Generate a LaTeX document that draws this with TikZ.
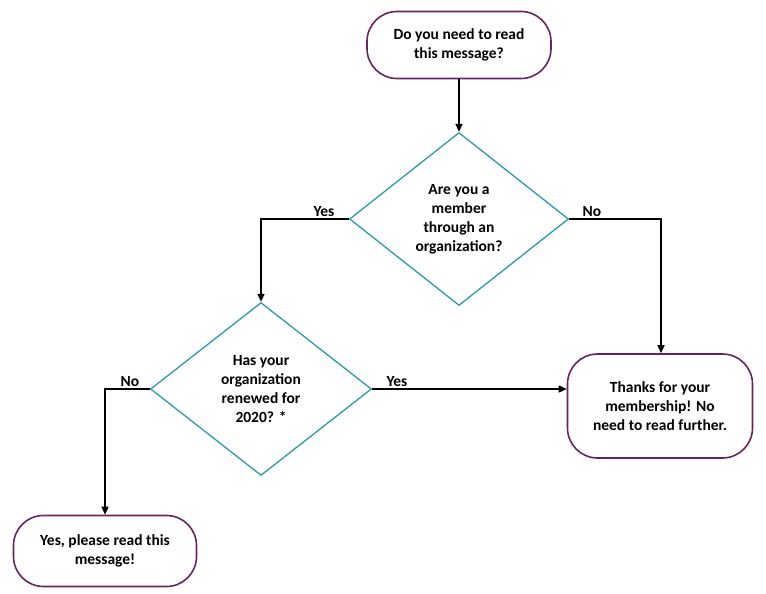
\documentclass[tikz,border=0pt]{standalone}
\usepackage{fontspec}
\setmainfont{Carlito}
\usepackage{tikz}
\usetikzlibrary{shapes.geometric, arrows.meta, positioning}
\usepackage{xcolor}
\definecolor{termline}{RGB}{104,36,96}
\definecolor{decline}{RGB}{46,152,172}

\tikzset{
  terminal/.style={draw=termline, line width=1.6pt, rounded corners=30pt, fill=white,
    align=center, font=\fontsize{15.5}{19}\selectfont\bfseries, inner sep=0pt},
  decision/.style={diamond, draw=decline, line width=1.3pt, align=center,
    font=\fontsize{15.5}{19}\selectfont\bfseries, inner sep=0pt},
  flow/.style={line width=1.6pt, -{Triangle[length=8pt,width=7pt]}},
  answer/.style={font=\fontsize{15.5}{19}\selectfont\bfseries, inner sep=1pt, anchor=south}
}

\begin{document}
\begin{tikzpicture}[x=1pt, y=-1pt]
  \useasboundingbox (0,0) rectangle (766,594);
  % Start
  \node[terminal, minimum width=184pt, minimum height=67pt] (start) at (459,45)
    {Do you need to read\\this message?};
  % Decisions
  \node[decision, minimum width=219pt, minimum height=173pt] (member) at (459,219)
    {Are you a\\member\\through an\\organization?};
  \node[decision, minimum width=221pt, minimum height=173pt] (renewed) at (261,389)
    {Has your\\organization\\renewed for\\2020? *};
  % Outcomes
  \node[terminal, minimum width=185pt, minimum height=104pt] (done) at (660,406)
    {Thanks for your\\membership! No\\need to read further.};
  \node[terminal, minimum width=183pt, minimum height=71pt] (read) at (105,551)
    {Yes, please read this\\message!};
  % Bend points
  \coordinate (yesbend) at (261,219);
  \coordinate (nobend) at (661,219);
  \coordinate (nobend2) at (105,389);
  % Connectors
  \draw[flow] (start) -- (member);
  \draw[flow] (member.west) -- (yesbend) -- (renewed.north);
  \draw[flow] (member.east) -- (nobend) -- (nobend |- done.north);
  \draw[flow] (renewed.east) -- (renewed.east -| done.west);
  \draw[flow] (renewed.west) -- (nobend2) -- (nobend2 |- read.north);
  % Answer labels
  \node[answer] (yes1) at (324,218) {Yes};
  \node[answer] (no1) at (592,218) {No};
  \node[answer] (no2) at (130,388) {No};
  \node[answer] (yes2) at (397,388) {Yes};
\end{tikzpicture}
\end{document}
